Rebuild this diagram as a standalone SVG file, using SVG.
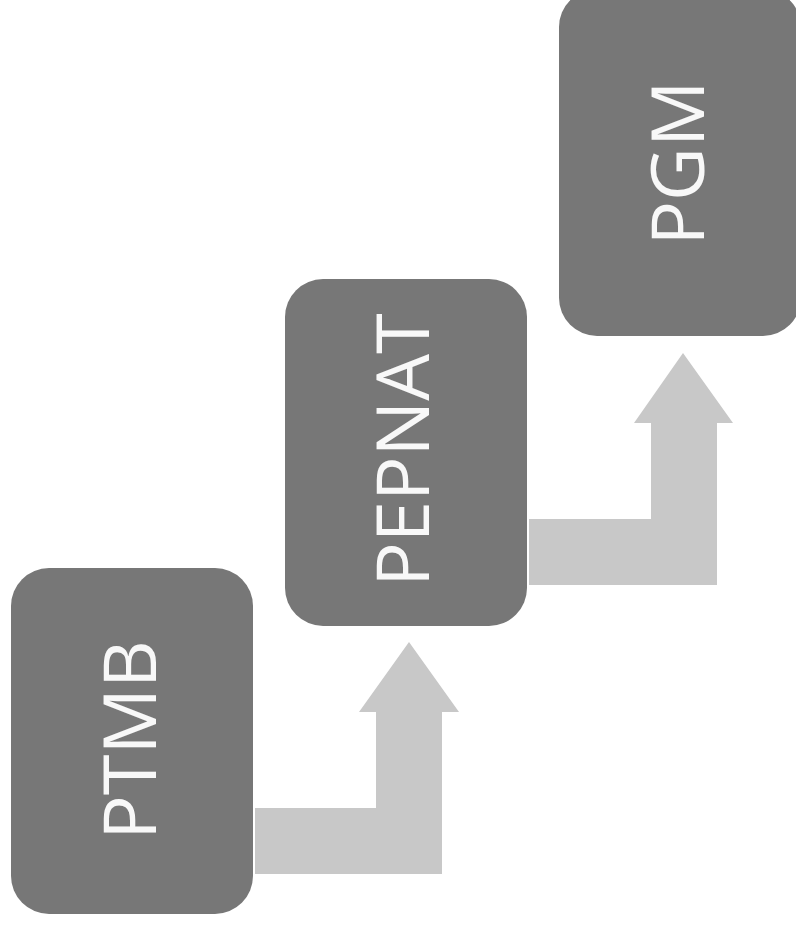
<svg xmlns="http://www.w3.org/2000/svg" width="796" height="930" viewBox="0 0 796 930">
<style>
.box{fill:#777777}
.lbl{fill:#f8f8f8;font-family:"Open Sans","DejaVu Sans",sans-serif;font-size:74px;text-anchor:middle}
.arr{fill:#c8c8c8}
</style>
<rect width="796" height="930" fill="#ffffff"/>
<g id="connectors">
<path class="arr" d="M255,808 H376 V712 H359 L409,642 L459,712 H442 V874 H255 Z"/>
<path class="arr" d="M529,519 H651 V423 H634 L683,353 L733,423 H717 V585 H529 Z"/>
</g>
<g id="ptmb">
<rect class="box" x="11" y="568" width="242" height="346" rx="38" ry="38"/>
<text class="lbl" transform="translate(156,740) rotate(-90)">PTMB</text>
</g>
<g id="pepnat">
<rect class="box" x="285" y="279" width="242" height="347" rx="38" ry="38"/>
<text class="lbl" transform="translate(429,450) rotate(-90)">PEPNAT</text>
</g>
<g id="pgm">
<rect class="box" x="559" y="-11" width="242" height="347" rx="38" ry="38"/>
<text class="lbl" transform="translate(704,163) rotate(-90)">PGM</text>
</g>
</svg>
